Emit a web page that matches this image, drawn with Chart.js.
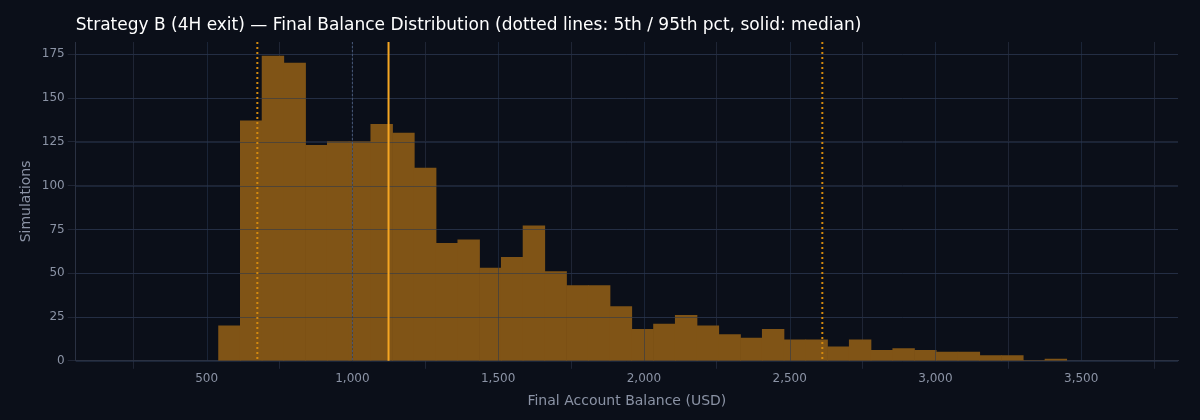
<!DOCTYPE html>
<html><head><meta charset="utf-8">
<script src="https://cdn.jsdelivr.net/npm/chart.js@4"></script>
<style>html,body{margin:0;background:#0b0f19;}#w{width:1200px;height:420px;}</style>
</head><body><div id="w"><canvas id="c"></canvas></div>
<script>
const binStart = 541;
const binWidth = 74.6;
const counts = [20,137,174,170,123,125,125,135,130,110,67,69,53,59,77,51,43,43,31,18,21,26,20,15,13,18,12,12,8,12,6,7,6,5,5,3,3,0,1];
const p5 = 674, median = 1124, p95 = 2612, startBalance = 1000;
const yTicks = [0,25,50,75,100,125,150,175];
const xTicks = [500,1000,1500,2000,2500,3000,3500];
const titleText = 'Strategy B (4H exit) — Final Balance Distribution (dotted lines: 5th / 95th pct, solid: median)';

const pts = counts.map((v,i)=>({x: binStart + binWidth*(i+0.5), y: v}));

const vlines = {
  id:'vlines',
  afterDatasetsDraw(ch){
    const {ctx, chartArea:a, scales:{x}} = ch;
    const draw=(v,col,w,dash)=>{const px=x.getPixelForValue(v);ctx.save();ctx.strokeStyle=col;ctx.lineWidth=w;ctx.setLineDash(dash);ctx.beginPath();ctx.moveTo(px,a.top);ctx.lineTo(px,a.bottom);ctx.stroke();ctx.restore();};
    draw(startBalance,'#4a5a78',1,[2,2]);
    draw(p5,'#d58a0e',2,[2,3]);
    draw(p95,'#d58a0e',2,[2,3]);
    draw(median,'#f5a623',2,[]);
  }
};
const gridOver = {
  id:'gridOver',
  afterDatasetsDraw(ch){
    const {ctx, chartArea:a, scales:{x,y}} = ch;
    ctx.save();ctx.strokeStyle='rgba(40,55,80,0.55)';ctx.lineWidth=1;
    yTicks.forEach(t=>{const py=Math.round(y.getPixelForValue(t))+0.5;ctx.beginPath();ctx.moveTo(a.left,py);ctx.lineTo(a.right,py);ctx.stroke();});
    xTicks.forEach(t=>{const px=Math.round(x.getPixelForValue(t))+0.5;ctx.beginPath();ctx.moveTo(px,a.top);ctx.lineTo(px,a.bottom);ctx.stroke();});
    ctx.fillStyle='#ffffff';ctx.font='17px "DejaVu Sans"';ctx.textBaseline='middle';ctx.textAlign='left';
    ctx.fillText(titleText,a.left,26);
    ctx.restore();
  }
};

new Chart(document.getElementById('c'),{
  type:'bar',
  data:{datasets:[{data:pts,backgroundColor:'rgba(128,84,22,1)',barPercentage:1,categoryPercentage:1,borderWidth:0}]},
  options:{
    responsive:true,maintainAspectRatio:false,animation:false,
    layout:{padding:{left:14,right:22,top:42,bottom:6}},
    plugins:{legend:{display:false},tooltip:{enabled:false},title:{display:false}},
    scales:{
      x:{type:'linear',min:321,max:3562,
        afterBuildTicks:s=>{s.ticks=xTicks.map(v=>({value:v}));},
        ticks:{color:'#8b93a5',font:{size:12,family:'DejaVu Sans'}},
        grid:{color:'#1f2535'},border:{color:'#2a3142'},
        title:{display:true,text:'Final Account Balance (USD)',color:'#8b93a5',font:{size:14,family:'DejaVu Sans'},padding:{top:4}}},
      y:{min:0,max:182,
        afterBuildTicks:s=>{s.ticks=yTicks.map(v=>({value:v}));},
        ticks:{color:'#8b93a5',font:{size:12,family:'DejaVu Sans'}},
        grid:{color:'#1f2535'},border:{color:'#2a3142'},
        title:{display:true,text:'Simulations',color:'#8b93a5',font:{size:14,family:'DejaVu Sans'}}}
    }
  },
  plugins:[gridOver,vlines]
});
</script></body></html>
